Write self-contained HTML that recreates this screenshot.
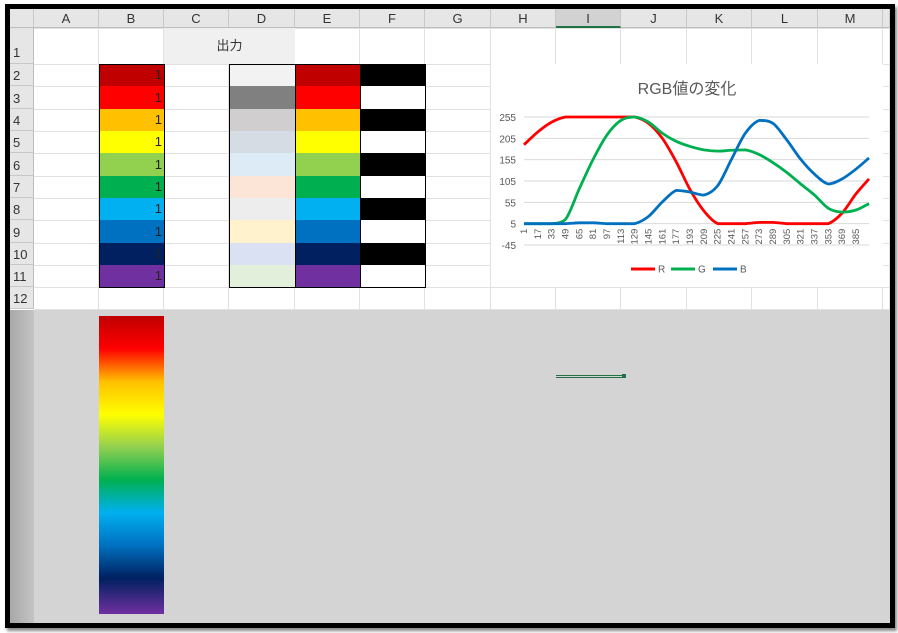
<!DOCTYPE html>
<html><head><meta charset="utf-8">
<style>
html,body{margin:0;padding:0;background:#fff;width:898px;height:633px;overflow:hidden;font-family:"Liberation Sans","Noto Sans CJK JP",sans-serif}
#frame{position:absolute;left:5px;top:4px;width:880px;height:614px;border:5px solid #000;background:#fff;overflow:hidden;box-shadow:2px 3px 3px #888}
.abs{position:absolute;box-sizing:border-box}
.colh{position:absolute;top:0;height:19px;background:#e6e6e6;border-right:1px solid #c8c8c8;border-bottom:1px solid #bdbdbd;text-align:center;font-size:13px;line-height:19px;color:#333;box-sizing:border-box}
.rowh{position:absolute;left:0;width:24px;background:#e6e6e6;border-bottom:1px solid #c8c8c8;border-right:1px solid #bdbdbd;font-size:13px;color:#333;box-sizing:border-box;padding-left:3px}
.vl{position:absolute;top:19px;width:1px;height:281px;background:#e1e1e1}
.hl{position:absolute;left:24px;height:1px;width:856px;background:#e1e1e1}
.cell{position:absolute;box-sizing:border-box}
</style></head><body>
<div id="frame">
<div id="grid"></div>
<div class="abs" style="left:0;top:301px;width:880px;height:313px;background:#d4d4d4"></div>
<div class="abs" style="left:0;top:301px;width:24px;height:313px;background:linear-gradient(to right,#a8a8a8,#c4c4c4)"></div>
<div class="abs" style="left:89px;top:307px;width:65px;height:298px;background:linear-gradient(to bottom,#c00000 0%,#ff0000 11%,#ffc000 22%,#ffff00 33%,#92d050 44%,#00b050 55%,#00b0f0 66%,#0070c0 77%,#002060 88%,#7030a0 100%)"></div>
<div class="abs" style="left:546px;top:366px;width:68px;height:3px;border-top:1px solid #217346;border-bottom:1px solid #217346"></div>
<div class="abs" style="left:612px;top:365px;width:4px;height:4px;background:#217346"></div>
<svg class="abs" id="chart" style="left:481px;top:55px" width="392" height="223"></svg>
</div>
<script>
const frame=document.getElementById('frame');
const grid=document.getElementById('grid');
const colX=[0,24,89,154,219,285,350,415,481,546,611,677,742,808,873,880];
const colN=['','A','B','C','D','E','F','G','H','I','J','K','L','M',''];
const rowY=[19,55,77,100,122,144,167,189,211,234,256,278,300];
function add(cls,style,text,name,inter){const d=document.createElement('div');d.className=cls;d.style.cssText=style;if(text)d.textContent=text;


grid.appendChild(d);return d;}
for(let i=1;i<colX.length-1;i++){add('vl','left:'+(colX[i+1]-1)+'px','', 'gridline-v','false');}
for(let j=0;j<rowY.length;j++){add('hl','top:'+rowY[j]+'px','','gridline-h','false');}
add('colh','left:0;width:24px','', 'select-all','true');
for(let i=1;i<colX.length-1;i++){const h=add('colh','left:'+colX[i]+'px;width:'+(colX[i+1]-colX[i])+'px',colN[i],'column-header-'+(colN[i]||'end').toLowerCase(),'true');if(colN[i]==='I'){h.style.background='#d2d2d2';h.style.borderBottom='2px solid #217346';}}
for(let j=0;j<12;j++){const h=add('rowh','top:'+rowY[j]+'px;height:'+(rowY[j+1]-rowY[j])+'px;line-height:'+(rowY[j+1]-rowY[j]+(j==0?14:2))+'px',String(j+1),'row-header-'+(j+1),'true');}
add('cell','left:154px;top:19px;width:131px;height:36px;background:#f0f0f0;text-align:center;line-height:36px;font-size:13px;color:#333','出力','output-header-cell','true');
const colB=['#c00000','#ff0000','#ffc000','#ffff00','#92d050','#00b050','#00b0f0','#0070c0','#002060','#7030a0'];
const colD=['#f2f2f2','#808080','#d0cece','#d6dce4','#ddebf7','#fce4d6','#ededed','#fff2cc','#d9e1f2','#e2efda'];
for(let r=0;r<10;r++){const y=rowY[r+1],h=rowY[r+2]-y;
add('cell','left:89px;top:'+y+'px;width:65px;height:'+h+'px;background:'+colB[r]+';text-align:right;font-size:13px;line-height:'+h+'px;padding-right:2px;color:#222','1','color-cell-b'+(r+2),'true');
add('cell','left:219px;top:'+y+'px;width:66px;height:'+h+'px;background:'+colD[r],'','tint-cell-d'+(r+2),'true');
add('cell','left:285px;top:'+y+'px;width:65px;height:'+h+'px;background:'+colB[r],'','color-cell-e'+(r+2),'true');
add('cell','left:350px;top:'+y+'px;width:65px;height:'+h+'px;background:'+(r%2==0?'#000':'#fff'),'','bw-cell-f'+(r+2),'true');}
[[89,65],[219,66],[285,65],[350,65]].forEach(([x,w])=>add('cell','left:'+x+'px;top:55px;width:'+(w+1)+'px;height:224px;border:1.5px solid #000','','range-border','false'));
</script>
<script>
const categories=[1,17,33,49,65,81,97,113,129,145,161,177,193,209,225,241,257,273,289,305,321,337,353,369,385,400];
const seriesR=[190,220,243,255,255,255,255,255,255,240,205,150,85,35,5,5,5,8,8,5,5,5,5,30,75,110];
const seriesG=[5,5,5,15,87,156,213,247,255,243,217,198,186,178,175,177,178,167,148,125,98,72,41,32,37,52];
const seriesB=[5,5,5,5,7,7,5,5,5,22,56,83,79,72,94,156,217,247,240,201,156,121,98,110,133,159];
const yTicks=[255,205,155,105,55,5,-45];
const xLabels=[1,17,33,49,65,81,97,113,129,145,161,177,193,209,225,241,257,273,289,305,321,337,353,369,385];
const NS='http://www.w3.org/2000/svg';
const svg=document.getElementById('chart');
const X0=33,X1=378,Y255=53,Ym45=181;
const xs=v=>X0+(v-1)/(400-1)*(X1-X0);
const ys=v=>Y255+(255-v)/300*(Ym45-Y255);
function el(t,a,p){const e=document.createElementNS(NS,t);for(const k in a)e.setAttribute(k,a[k]);(p||svg).appendChild(e);return e;}
const bg=el('rect',{x:0,y:0,width:392,height:223,fill:'#fff'});


const title=el('text',{x:196,y:30,'text-anchor':'middle','font-size':16,fill:'#595959','font-family':'"Liberation Sans","Noto Sans CJK JP",sans-serif'});title.textContent='RGB値の変化';


yTicks.forEach(t=>{const g=el('line',{x1:X0,x2:X1,y1:ys(t),y2:ys(t),stroke:'#d9d9d9','stroke-width':1});


const l=el('text',{x:25,y:ys(t)+4,'text-anchor':'end','font-size':10,fill:'#595959'});l.textContent=t;

});
xLabels.forEach(c=>{const x=xs(c);const l=el('text',{x:0,y:0,'text-anchor':'end','font-size':9.5,fill:'#595959',transform:'translate('+(x+3)+','+(ys(5)+5)+') rotate(-90)'});l.textContent=c;

});
function clampY(y,a,b){const lo=Math.min(a,b),hi=Math.max(a,b);return Math.max(lo,Math.min(hi,y));}
function path(vals){const pts=categories.map((c,i)=>[xs(c),ys(vals[i])]);let d='M'+pts[0][0]+','+pts[0][1];
for(let i=0;i<pts.length-1;i++){const p0=pts[Math.max(0,i-1)],p1=pts[i],p2=pts[i+1],p3=pts[Math.min(pts.length-1,i+2)];
const c1=[p1[0]+(p2[0]-p0[0])/6,clampY(p1[1]+(p2[1]-p0[1])/6,p1[1],p2[1])],c2=[p2[0]-(p3[0]-p1[0])/6,clampY(p2[1]-(p3[1]-p1[1])/6,p1[1],p2[1])];
d+=' C'+c1.join(',')+' '+c2.join(',')+' '+p2.join(',');}return d;}
[[seriesR,'#ff0000','series-r'],[seriesG,'#00b050','series-g'],[seriesB,'#0070c0','series-b']].forEach(([v,c,n])=>{
const p=el('path',{d:path(v),fill:'none',stroke:c,'stroke-width':2.8,'stroke-linejoin':'round'});

});
[['R','#ff0000',140],['G','#00b050',180],['B','#0070c0',222]].forEach(([t,c,x])=>{
const g=el('g',{});


el('line',{x1:x,x2:x+24,y1:205,y2:205,stroke:c,'stroke-width':3},g);
const tx=el('text',{x:x+27,y:208.5,'font-size':10,fill:'#595959'},g);tx.textContent=t;});
</script>
</body></html>
